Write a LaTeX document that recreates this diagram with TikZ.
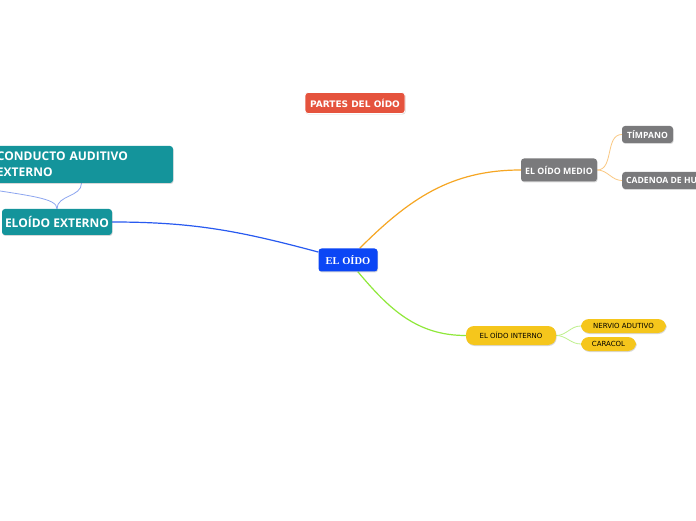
\documentclass[tikz,border=0pt]{standalone}
\usepackage{fontspec}
\setmainfont{Liberation Serif}
\setsansfont{Open Sans}
\newfontfamily\smallsans{DejaVu Sans}
\usepackage{tikz}
\usetikzlibrary{shadows, backgrounds}
\usepackage{xcolor}
\definecolor{mapblue}{RGB}{11,70,245}
\definecolor{mapred}{RGB}{229,83,61}
\definecolor{mapteal}{RGB}{20,148,155}
\definecolor{mapgray}{RGB}{122,122,124}
\definecolor{mapyellow}{RGB}{245,198,28}
\definecolor{lineorange}{RGB}{246,166,35}
\definecolor{linegreen}{RGB}{143,232,58}
\definecolor{lineblue}{RGB}{40,90,240}
\definecolor{lightblue}{RGB}{140,165,240}
\definecolor{lightorange}{RGB}{250,200,130}
\definecolor{lightgreen}{RGB}{190,240,140}

\begin{document}
\begin{tikzpicture}[x=1pt, y=1pt,
  box/.style={rounded corners=3pt, text=white, inner sep=0pt,
    drop shadow={shadow xshift=0.6pt, shadow yshift=-1pt, opacity=0.3}},
  pill/.style={rounded corners=8pt, fill=mapyellow, text=black, inner sep=0pt,
    font=\smallsans\fontsize{7}{8}\selectfont,
    drop shadow={shadow xshift=0.6pt, shadow yshift=-1pt, opacity=0.3}},
  branch/.style={line width=1.2pt},
  twig/.style={line width=0.8pt}]
  \useasboundingbox (0,0) rectangle (696,520);
  \clip (0,0) rectangle (696,520);

  % central topic and title
  \node[box, fill=mapblue, minimum width=59, minimum height=23,
    font=\rmfamily\bfseries\fontsize{10.5}{12}\selectfont] (oido) at (348,260) {EL OÍDO};
  \node[box, fill=mapred, draw=white, line width=0.8pt, minimum width=100, minimum height=21,
    font=\smallsans\bfseries\fontsize{9}{10}\selectfont] (partes) at (355,417) {PARTES DEL OÍDO};

  % left branch
  \node[box, fill=mapteal, minimum width=110, minimum height=26,
    font=\sffamily\bfseries\fontsize{12}{14}\selectfont] (ext) at (57,298) {ELOÍDO EXTERNO};
  \node[box, fill=mapteal, minimum width=183, minimum height=37, text width=169, align=left,
    inner xsep=7pt, font=\sffamily\bfseries\fontsize{12}{16}\selectfont]
    (conducto) at (81.5,355.5) {CONDUCTO AUDITIVO\\EXTERNO};
  \coordinate (offleft) at (-25,333);

  % right branches
  \node[box, fill=mapgray, minimum width=76, minimum height=23,
    font=\sffamily\bfseries\fontsize{8.8}{10}\selectfont] (medio) at (559,350) {EL OÍDO MEDIO};
  \node[box, fill=mapgray, minimum width=51, minimum height=17,
    font=\sffamily\bfseries\fontsize{8.6}{10}\selectfont] (timpano) at (647.5,385.5) {TÍMPANO};
  \node[box, fill=mapgray, minimum height=17, anchor=west, inner xsep=4pt,
    font=\sffamily\bfseries\fontsize{8.6}{10}\selectfont] (cadena) at (622,339.5) {CADENOA DE HUESECILLOS};
  \node[pill, minimum width=90, minimum height=19] (interno) at (511,184.5) {EL OÍDO INTERNO};
  \node[pill, minimum width=85, minimum height=14] (nervio) at (623.5,194) {NERVIO ADUTIVO};
  \node[pill, minimum width=55, minimum height=14] (caracol) at (608.5,176) {CARACOL};

  % connectors
  \begin{scope}[on background layer]
    \fill[white] (0,0) rectangle (696,520);
    \draw[branch, lineorange] (oido) to[out=45, in=180] (medio.west);
    \draw[branch, linegreen] (oido) to[out=-50, in=180] (interno.west);
    \draw[branch, lineblue] (oido) to[out=165, in=0] (ext.east);
    \draw[twig, lightblue] (ext.north) to[out=90, in=-90] (conducto.south);
    \draw[twig, lightblue] (ext.north) .. controls (57,322) and (30,324) .. (offleft);
    \draw[twig, lightorange] (medio.east) to[out=0, in=180] (timpano.west);
    \draw[twig, lightorange] (medio.east) to[out=0, in=180] (cadena.west);
    \draw[twig, lightgreen] (interno.east) to[out=0, in=180] (nervio.west);
    \draw[twig, lightgreen] (interno.east) to[out=0, in=180] (caracol.west);
  \end{scope}
\end{tikzpicture}
\end{document}
